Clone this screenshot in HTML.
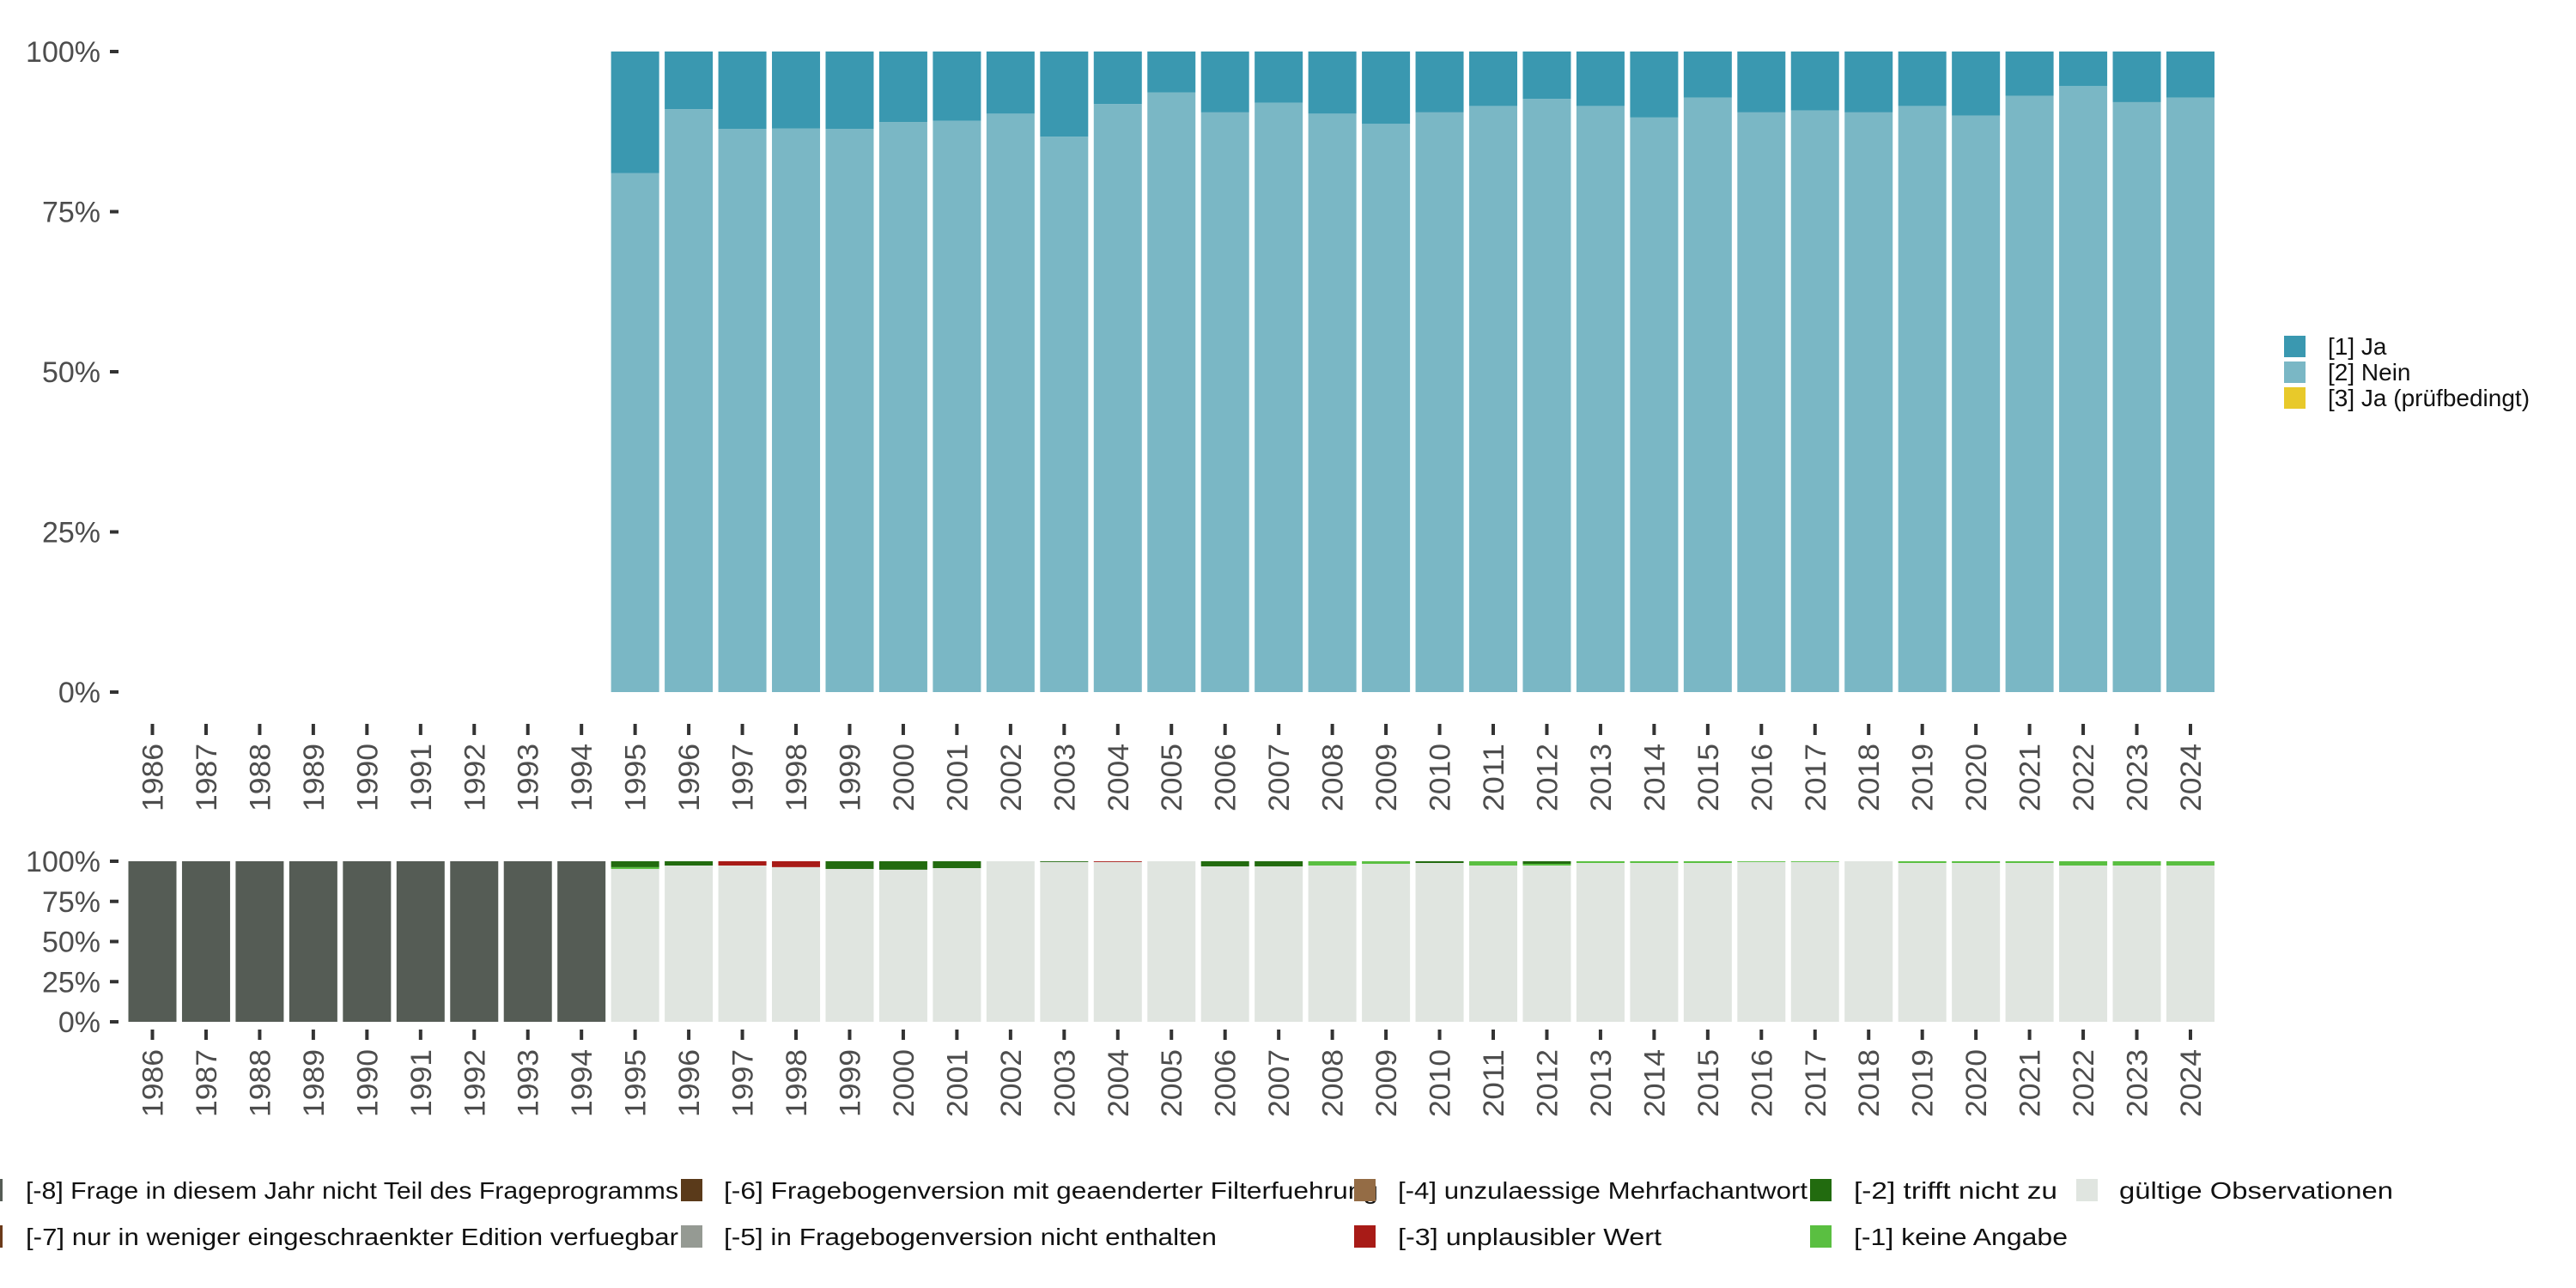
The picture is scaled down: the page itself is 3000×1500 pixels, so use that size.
<!DOCTYPE html>
<html><head><meta charset="utf-8"><style>
html,body{margin:0;padding:0;background:#fff}
svg{display:block;font-family:"Liberation Sans",sans-serif}
</style></head><body>
<svg id="chart" width="3000" height="1500" viewBox="0 0 3000 1500" xmlns="http://www.w3.org/2000/svg">
<g id="top"></g>
<g id="bot"></g>
<g id="legR"></g>
<g id="legB"></g>
</svg>
<script>
const years = [1986,1987,1988,1989,1990,1991,1992,1993,1994,1995,1996,1997,1998,1999,2000,2001,2002,2003,2004,2005,2006,2007,2008,2009,2010,2011,2012,2013,2014,2015,2016,2017,2018,2019,2020,2021,2022,2023,2024];
// top panel: percent Nein (rest Ja) from 1995; null = no data
const neinPct = [null,null,null,null,null,null,null,null,null,81.0,91.0,87.9,88.0,87.9,89.0,89.2,90.3,86.7,91.8,93.6,90.5,92.0,90.3,88.7,90.5,91.5,92.6,91.5,89.7,92.8,90.5,90.8,90.5,91.5,90.0,93.1,94.6,92.1,92.8];
const jaPct =   [null,null,null,null,null,null,null,null,null,19.0,9.0,12.1,12.0,12.1,11.0,10.8,9.7,13.3,8.2,6.4,9.5,8.0,9.7,11.3,9.5,8.5,7.4,8.5,10.3,7.2,9.5,9.2,9.5,8.5,10.0,6.9,5.4,7.9,7.2];
// bottom panel percentages
const m8 = [100,100,100,100,100,100,100,100,100,0,0,0,0,0,0,0,0,0,0,0,0,0,0,0,0,0,0,0,0,0,0,0,0,0,0,0,0,0,0];
const m3 = [0,0,0,0,0,0,0,0,0,0,0,2.7,3.7,0,0,0,0,0,0.5,0,0,0,0,0,0,0,0,0,0,0,0,0,0,0,0,0,0,0,0];
const m2 = [0,0,0,0,0,0,0,0,0,3.7,2.7,0,0,4.8,5.3,4.3,0,0.5,0,0,3.2,3.2,0,0,1.1,0,1.6,0,0,0,0,0,0,0,0,0,0,0,0];
const m1 = [0,0,0,0,0,0,0,0,0,1.1,0,0,0,0,0,0,0,0,0,0,0,0,2.7,1.6,0,2.7,1.1,1.1,1.1,1.1,0.5,0.5,0,1.1,1.1,1.1,2.7,2.7,2.7];
const yTicks = [0,25,50,75,100];

const NS="http://www.w3.org/2000/svg";
function mk(p,tag,a,t){const e=document.createElementNS(NS,tag);for(const k in a)e.setAttribute(k,a[k]);if(t!==undefined)e.textContent=t;p.appendChild(e);return e;}
const xPos = i => 177.5 + i*62.46;
const BW = 56;

function axes(g, y0, y1, tickY1, tickY2, labY, name){
  const ys = v => y0 - (y0-y1)*v/100;
  yTicks.forEach(v=>{
    const l=mk(g,'text',{x:117,y:ys(v)+12,'text-anchor':'end','font-size':34,fill:'#4d4d4d'},v+'%');
    
    
    const t=mk(g,'rect',{x:128,y:ys(v)-2,width:10,height:4,fill:'#333'});
    
    
  });
  years.forEach((yr,i)=>{
    const x=xPos(i);
    const t=mk(g,'rect',{x:x-2,y:tickY1,width:4,height:tickY2-tickY1,fill:'#333'});
    
    
    const l=mk(g,'text',{x:0,y:0,'text-anchor':'end','font-size':34,fill:'#4d4d4d',transform:`translate(${x+12},${labY}) rotate(-90)`,textLength:79,lengthAdjust:'spacingAndGlyphs'},yr);
    
    
  });
  return ys;
}

// top panel
const gt=document.getElementById('top');
const ysT=axes(gt,806,60,843,856,866,'top');
years.forEach((yr,i)=>{
  if(neinPct[i]===null)return;
  const x=xPos(i)-BW/2;
  let b=mk(gt,'rect',{x:x,y:ysT(neinPct[i]),width:BW,height:ysT(0)-ysT(neinPct[i]),fill:'#7ab7c5'});
  
  
  b=mk(gt,'rect',{x:x,y:ysT(neinPct[i]+jaPct[i]),width:BW,height:ysT(neinPct[i])-ysT(neinPct[i]+jaPct[i]),fill:'#3a98b0'});
  
  
});

// bottom panel
const gb=document.getElementById('bot');
const ysB=axes(gb,1190,1003,1199,1211,1222,'bottom');
years.forEach((yr,i)=>{
  const x=xPos(i)-BW/2;
  const segs=[['m8',m8[i],'#555c55'],['m3',m3[i],'#a81b17'],['m2',m2[i],'#226b0f'],['m1',m1[i],'#5abf41']];
  let top=100;
  segs.forEach(s=>{
    if(!s[1])return;
    const r=mk(gb,'rect',{x:x,y:ysB(top),width:BW,height:ysB(top-s[1])-ysB(top),fill:s[2]});
    
    
    top-=s[1];
  });
  if(top>0){
    const r=mk(gb,'rect',{x:x,y:ysB(top),width:BW,height:ysB(0)-ysB(top),fill:'#e0e5e0'});
    
    
  }
});

// right legend
const gr=document.getElementById('legR');
[['[1] Ja','#3a98b0'],['[2] Nein','#7ab7c5'],['[3] Ja (prüfbedingt)','#e8c92a']].forEach((e,k)=>{
  const y=391+k*30;
  const r=mk(gr,'rect',{x:2660,y:y,width:25,height:25,fill:e[1]});
  
  
  const t=mk(gr,'text',{x:2711,y:y+22,'font-size':28,fill:'#111'},e[0]);
  
  
});

// bottom legend
const gl=document.getElementById('legB');
const legItems=[
 [-22,30,1386,'#555c55','[-8] Frage in diesem Jahr nicht Teil des Frageprogramms',760],
 [-22,30,1440,'#6b3a1a','[-7] nur in weniger eingeschraenkter Edition verfuegbar',760],
 [793,843,1386,'#5a3a1a','[-6] Fragebogenversion mit geaenderter Filterfuehrung',762],
 [793,843,1440,'#959a93','[-5] in Fragebogenversion nicht enthalten',574],
 [1577,1628,1386,'#946c45','[-4] unzulaessige Mehrfachantwort',477],
 [1577,1628,1440,'#a81b17','[-3] unplausibler Wert',307],
 [2108,2159,1386,'#226b0f','[-2] trifft nicht zu',237],
 [2108,2159,1440,'#5abf41','[-1] keine Angabe',249],
 [2418,2468,1386,'#e0e5e0','gültige Observationen',319]
];
legItems.forEach(e=>{
  const r=mk(gl,'rect',{x:e[0],y:e[2]-13,width:25,height:26,fill:e[3]});
  
  
  const t=mk(gl,'text',{x:e[1],y:e[2]+10,'font-size':28,fill:'#111',textLength:e[5],lengthAdjust:'spacingAndGlyphs'},e[4]);
  
  
});
</script>
</body></html>
